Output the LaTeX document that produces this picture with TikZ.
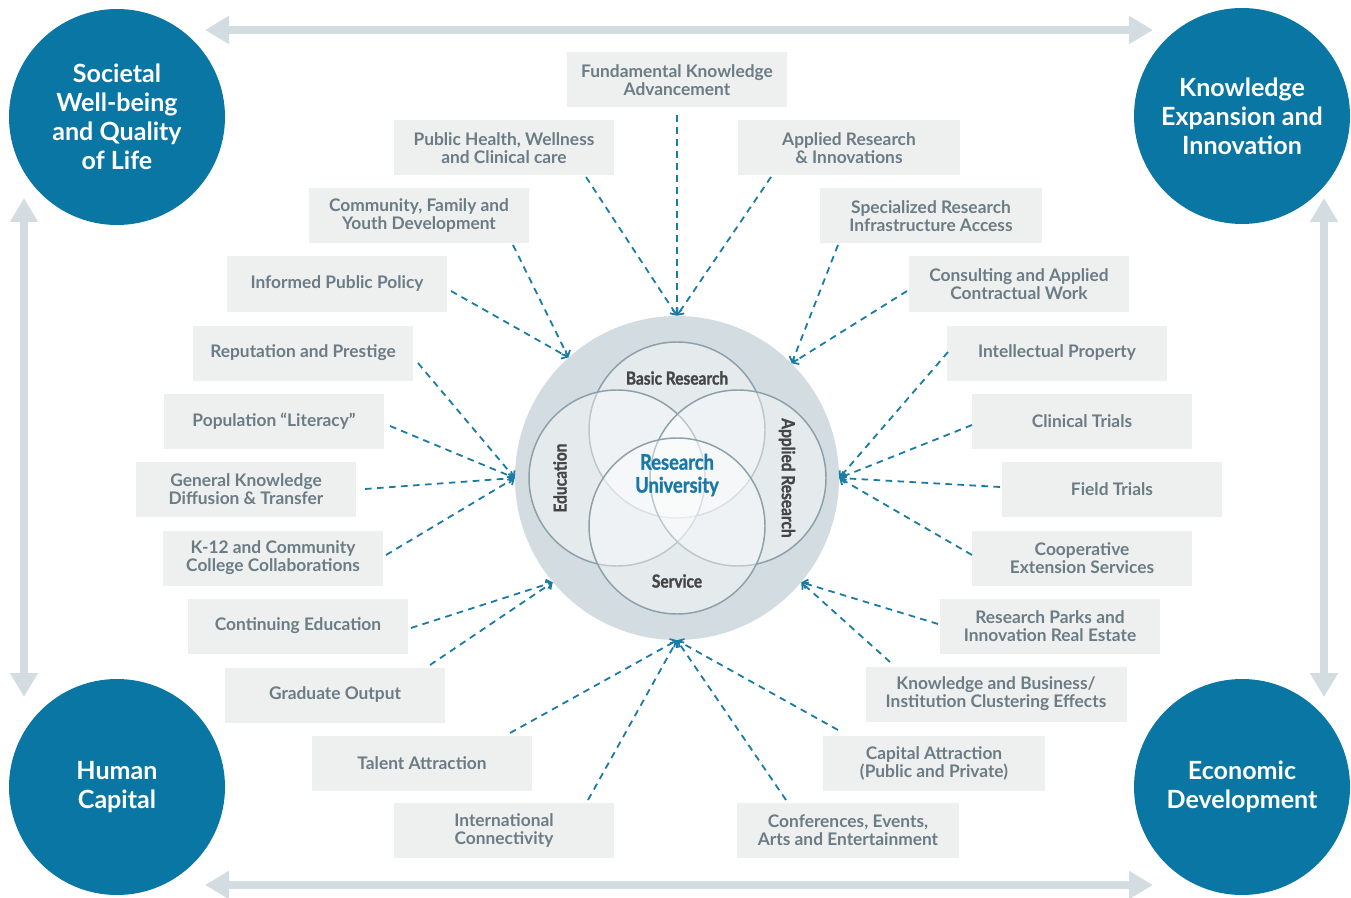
\documentclass[tikz,border=0pt]{standalone}
\usepackage{fontspec}
\setmainfont{Lato}
\newfontfamily\condfont{Lato}[FakeStretch=0.86, FakeBold=1.2]
\usetikzlibrary{arrows.meta}
\definecolor{bigblue}{HTML}{0A76A4}
\definecolor{lgray}{HTML}{D3DCE1}
\definecolor{boxfill}{HTML}{EEF0F0}
\definecolor{boxtext}{HTML}{6B7C85}
\definecolor{dashblue}{HTML}{1A7BA5}
\definecolor{vennline}{HTML}{8CA0AA}
\definecolor{venntext}{HTML}{454545}
\definecolor{rublue}{HTML}{1878A8}
\begin{document}
\begin{tikzpicture}[x=0.75pt,y=-0.75pt,
  box/.style={fill=boxfill, text=boxtext, font=\bfseries\fontsize{13}{13.5}\selectfont, align=center, minimum width=165pt, minimum height=41.25pt, inner sep=0pt},
  bigc/.style={circle, fill=bigblue, text=white, font=\bfseries\fontsize{18.8}{21.75}\selectfont, align=center, minimum size=162pt, inner sep=0pt},
  dl/.style={draw=dashblue, line width=1.35pt, dash pattern=on 5pt off 4pt, -{Straight Barb[length=3.5pt,width=7pt]}},
  garrow/.style={draw=lgray, line width=6pt, {Triangle[length=18pt,width=20pt]}-{Triangle[length=18pt,width=20pt]}},
  venn/.style={circle, minimum size=132pt, inner sep=0pt, fill=white, fill opacity=0.42, draw=vennline, draw opacity=1, line width=1.1pt},
  vlab/.style={text=venntext, font=\condfont\bfseries\fontsize{13.5}{14}\selectfont, inner sep=0pt}
]
\useasboundingbox (0,0) rectangle (1351,898);

% corner circles
\node[bigc] (tl) at (117,117) {Societal\\Well-being\\and Quality\\of Life};
\node[bigc] (tr) at (1242,116) {Knowledge\\Expansion and\\Innovation};
\node[bigc] (bl) at (117,787) {Human\\Capital};
\node[bigc] (br) at (1242,787) {Economic\\Development};

% gray arrows
\coordinate (ta1) at (205,30); \coordinate (ta2) at (1153,30);
\coordinate (ba1) at (205,885); \coordinate (ba2) at (1153,885);
\coordinate (la1) at (24,198); \coordinate (la2) at (24,697);
\coordinate (ra1) at (1324,198); \coordinate (ra2) at (1324,697);
\draw[garrow] (ta1) -- (ta2);
\draw[garrow] (ba1) -- (ba2);
\draw[garrow] (la1) -- (la2);
\draw[garrow] (ra1) -- (ra2);

% central circle
\node[circle, fill=lgray, minimum size=243pt, inner sep=0pt] (bc) at (677,478) {};
\node[venn] (vt) at (677,430) {};
\node[venn] (vl) at (617,478) {};
\node[venn] (vr) at (738,478) {};
\node[venn] (vb) at (677,526) {};
\node[vlab] (lbr) at (677,378) {Basic Research};
\node[vlab] (lsv) at (677,581) {Service};
\node[vlab, rotate=90] (led) at (560,478) {Education};
\node[vlab, rotate=-90] (lar) at (787,478) {Applied Research};
\node[text=rublue, font=\condfont\bfseries\fontsize{16}{17.25}\selectfont, align=center, inner sep=0pt] (ru) at (677,475) {Research\\University};

% boxes
\node[box] (fk) at (677,80) {Fundamental Knowledge\\Advancement};
\node[box] (ph) at (504,148) {Public Health, Wellness\\and Clinical care};
\node[box, minimum width=166.5pt] (ar) at (849,148) {Applied Research\\\& Innovations};
\node[box] (cf) at (419,216) {Community, Family and\\Youth Development};
\node[box, minimum width=166.5pt] (sr) at (931,216) {Specialized Research\\Infrastructure Access};
\node[box] (ipp) at (337,284) {Informed Public Policy};
\node[box] (cw) at (1019,284) {Consulting and Applied\\Contractual Work};
\node[box] (rp) at (303,353) {Reputation and Prestige};
\node[box] (ipr) at (1057,353) {Intellectual Property};
\node[box] (pl) at (274,421) {Population “Literacy”};
\node[box] (ct) at (1082,421) {Clinical Trials};
\node[box] (gk) at (246,489) {General Knowledge\\Diffusion \& Transfer};
\node[box] (ft) at (1112,489) {Field Trials};
\node[box] (kc) at (273,558) {K-12 and Community\\College Collaborations};
\node[box] (ces) at (1082,558) {Cooperative\\Extension Services};
\node[box] (ce) at (298,626) {Continuing Education};
\node[box] (rpk) at (1050,626) {Research Parks and\\Innovation Real Estate};
\node[box] (go) at (335,695) {Graduate Output};
\node[box, minimum width=195.75pt] (kb) at (996,694) {Knowledge and Business/\\Institution Clustering Effects};
\node[box] (tal) at (422,763) {Talent Attraction};
\node[box, minimum width=166.5pt] (ca) at (934,763) {Capital Attraction\\(Public and Private)};
\node[box] (ic) at (504,830) {International\\Connectivity};
\node[box, minimum width=166.5pt] (cea) at (848,830) {Conferences, Events,\\Arts and Entertainment};

% convergence points
\coordinate (ctop) at (bc.north);
\coordinate (cleft) at (bc.west);
\coordinate (cright) at (bc.east);
\coordinate (cbot) at (bc.south);
\coordinate (cul) at (bc.132);
\coordinate (cur) at (bc.45);
\coordinate (cll) at (bc.220);
\coordinate (clr) at (bc.320);

% dashed connectors
\draw[dl] ([shift={(0,35)}]fk.center) -- (ctop);
\draw[dl] ([shift={(82,29)}]ph.center) -- (ctop);
\draw[dl] ([shift={(-78,29)}]ar.center) -- (ctop);
\draw[dl] ([shift={(94,29)}]cf.center) -- (cul);
\draw[dl] ([shift={(114,7)}]ipp.center) -- (cul);
\draw[dl] ([shift={(-93,29)}]sr.center) -- (cur);
\draw[dl] ([shift={(-112,7)}]cw.center) -- (cur);
\draw[dl] ([shift={(115,10)}]rp.center) -- (cleft);
\draw[dl] ([shift={(116,5)}]pl.center) -- (cleft);
\draw[dl] ([shift={(119,0)}]gk.center) -- (cleft);
\draw[dl] ([shift={(113,-3)}]kc.center) -- (cleft);
\draw[dl] ([shift={(-109,-1)}]ipr.center) -- (cright);
\draw[dl] ([shift={(-110,4)}]ct.center) -- (cright);
\draw[dl] ([shift={(-112,-2)}]ft.center) -- (cright);
\draw[dl] ([shift={(-110,-3)}]ces.center) -- (cright);
\draw[dl] ([shift={(113,2)}]ce.center) -- (cll);
\draw[dl] ([shift={(95,-30)}]go.center) -- (cll);
\draw[dl] ([shift={(-112,-2)}]rpk.center) -- (clr);
\draw[dl] ([shift={(-106,-32)}]kb.center) -- (clr);
\draw[dl] ([shift={(88,-30)}]tal.center) -- (cbot);
\draw[dl] ([shift={(84,-30)}]ic.center) -- (cbot);
\draw[dl] ([shift={(-96,-33)}]ca.center) -- (cbot);
\draw[dl] ([shift={(-62,-30)}]cea.center) -- (cbot);
\end{tikzpicture}
\end{document}
